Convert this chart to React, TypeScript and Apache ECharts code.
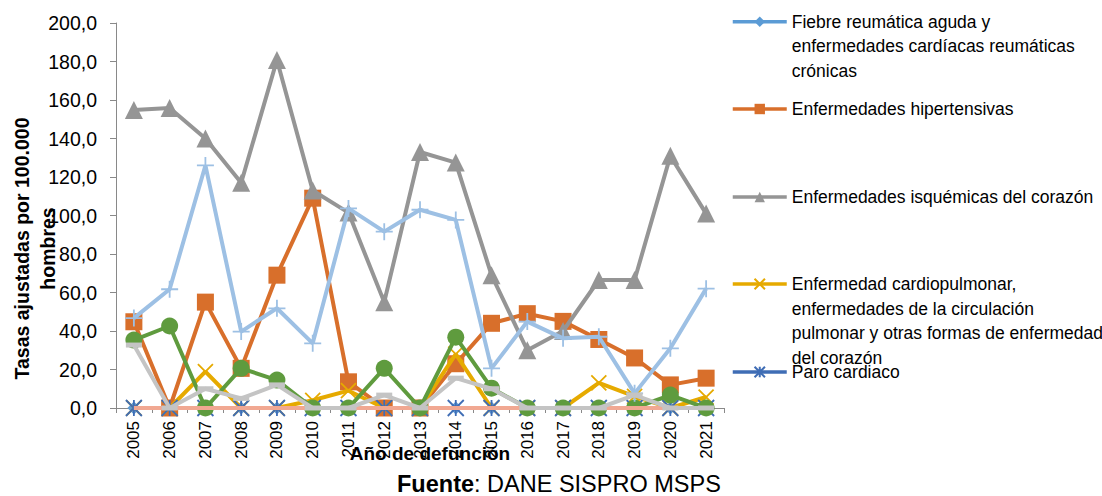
import React, { useEffect, useRef } from "react";
import * as echarts from "echarts";

const years = ["2005", "2006", "2007", "2008", "2009", "2010", "2011", "2012", "2013", "2014", "2015", "2016", "2017", "2018", "2019", "2020", "2021"];
const yTicks = [0, 20, 40, 60, 80, 100, 120, 140, 160, 180, 200];

const fiebre = [0, 0, 0, 0, 0, 0, 0, 0, 0, 0, 0, 0, 0, 0, 0, 0, 0];
const hipertensivas = [44.8, 0, 55, 20.6, 69, 109, 13.6, 0, 0, 23, 44, 49, 45, 35.6, 26, 12, 15.5];
const isquemicas = [154.8, 155.8, 140, 117, 180.8, 113, 101.5, 55, 133, 127.5, 69, 30, 40, 66.5, 66.5, 131, 101];
const cardiopulmonar = [0, 0, 18.9, 0, 0, 4, 9, 0, 0, 28, 0, 0, 0, 13, 6, 0, 5.7];
const paro = [0, 0, 0, 0, 0, 0, 0, 0, 0, 0, 0, 0, 0, 0, 0, 0, 0];
const insuficiencia = [35.3, 42.6, 0, 20.6, 14.5, 0, 0, 20.6, 0, 36.8, 10.3, 0, 0, 0, 0, 6.7, 0];
const cerebrovasculares = [46.7, 61.7, 126, 39.7, 51.8, 33.6, 103.7, 91.6, 103, 97.7, 20.6, 44.9, 36.2, 37, 7.6, 31, 62];
const aterosclerosis = [0, 0, 0, 0, 0, 0, 0, 0, 0, 0, 0, 0, 0, 0, 0, 0, 0];
const demas = [32.7, 0, 10, 5, 12, 0, 0, 6.7, 0, 15.5, 10, 0, 0, 0, 6.7, 0, 0];

const N_FIEBRE = "Fiebre reumática aguda y\nenfermedades cardíacas reumáticas\ncrónicas";
const N_HIPER = "Enfermedades hipertensivas";
const N_ISQ = "Enfermedades isquémicas del corazón";
const N_CARDIO = "Enfermedad cardiopulmonar,\nenfermedades de la circulación\npulmonar y otras formas de enfermedad\ndel corazón";
const N_PARO = "Paro cardiaco";
const N_INSUF = "Insuficiencia cardíaca";
const N_CEREBRO = "Enfermedades cerebrovasculares";
const N_ATERO = "Aterosclerosis";
const N_DEMAS = "Las demás enfermedades del sistema circulatorio";

const FONT = "'Liberation Sans', Arial, sans-serif";

const SYM_X = "path://M0,0L10,10M10,0L0,10";
const SYM_STAR = "path://M5,0V10M0,0L10,10M10,0L0,10";
const SYM_PLUS = "path://M5,0V10M0,5H10";
const SYM_DASH = "path://M0,0H10V3H0Z";

function mk(name: string, data: number[], color: string, symbol: string, symbolSize: any, stroke: boolean, z: number) {
  return {
    name,
    type: "line",
    data,
    symbol,
    symbolSize,
    showSymbol: symbol !== "none",
    z,
    lineStyle: { color, width: 4 },
    itemStyle: stroke
      ? { color, borderColor: color, borderWidth: 1.8 }
      : { color, borderWidth: 0 },
    emphasis: { disabled: true },
  };
}

const LH = 24.5;
const legendDefs = [
  { name: N_FIEBRE, n: 3, y: 21.7 },
  { name: N_HIPER, n: 1, y: 109 },
  { name: N_ISQ, n: 1, y: 197 },
  { name: N_CARDIO, n: 4, y: 284 },
  { name: N_PARO, n: 1, y: 372 },
];

export default function App() {
  const ref = useRef<HTMLDivElement>(null);
  useEffect(() => {
    const chart = echarts.init(ref.current!, null, { renderer: "svg" });
    const option: any = {
      animation: false,
      grid: { left: 116, right: 378, top: 23, bottom: 88, containLabel: false, outerBoundsMode: "none" },
      legend: legendDefs.map((d) => ({
        data: [d.name],
        left: 731,
        top: d.y - (LH * (2 * d.n - 1)) / 2,
        padding: 0,
        itemWidth: 54,
        itemHeight: 13,
        itemGap: 5,
        selectedMode: false,
        lineStyle: { width: 3.5 },
        formatter: (name: string) => "\n".repeat(d.n - 1) + name,
        textStyle: {
          fontFamily: FONT,
          fontSize: 17.5,
          color: "#000",
          lineHeight: LH,
        },
      })),
      xAxis: {
        type: "category",
        data: years,
        boundaryGap: true,
        name: "Año de defunción",
        nameLocation: "middle",
        nameGap: 36,
        nameMoveOverlap: false,
        nameTextStyle: {
          fontFamily: FONT,
          fontWeight: "bold",
          fontSize: 19,
          color: "#000",
          padding: [0, 0, 0, 20],
        },
        axisLine: { lineStyle: { color: "#898989", width: 1 } },
        axisTick: { show: true, length: 5, lineStyle: { color: "#898989" } },
        axisLabel: {
          rotate: 90,
          margin: 13,
          fontFamily: FONT,
          fontSize: 17,
          color: "#000",
        },
        splitLine: { show: false },
      },
      yAxis: {
        type: "value",
        min: yTicks[0],
        max: yTicks[yTicks.length - 1],
        interval: 20,
        name: "Tasas ajustadas por 100.000\nhombres",
        nameLocation: "middle",
        nameGap: 55,
        nameRotate: 90,
        nameMoveOverlap: false,
        nameTextStyle: {
          fontFamily: FONT,
          fontWeight: "bold",
          fontSize: 19.5,
          lineHeight: 26,
          color: "#000",
          padding: [0, 66, 0, 0],
        },
        axisLine: { show: true, lineStyle: { color: "#898989", width: 1 } },
        axisTick: { show: true, length: 6, lineStyle: { color: "#898989" } },
        axisLabel: {
          margin: 19,
          fontFamily: FONT,
          fontSize: 19.5,
          color: "#000",
          formatter: (v: number) => v.toFixed(1).replace(".", ","),
        },
        splitLine: { show: false },
      },
      graphic: [
        {
          type: "text",
          left: 397,
          top: 472,
          style: {
            text: "{b|Fuente}: DANE SISPRO MSPS",
            fontFamily: FONT,
            fontSize: 23.5,
            fill: "#000",
            rich: {
              b: { fontFamily: FONT, fontSize: 23.5, fontWeight: "bold", fill: "#000" },
            },
          },
        },
      ],
      series: [
        mk(N_FIEBRE, fiebre, "#5B9BD5", "diamond", 13, false, 2),
        mk(N_HIPER, hipertensivas, "#D86F2B", "rect", 17, false, 3),
        mk(N_ISQ, isquemicas, "#959595", "triangle", 18, false, 4),
        mk(N_CARDIO, cardiopulmonar, "#E6AA00", SYM_X, 15, true, 5),
        mk(N_PARO, paro, "#3F6DB5", SYM_STAR, 16, true, 6),
        mk(N_INSUF, insuficiencia, "#5F9B3E", "circle", 17, false, 7),
        mk(N_CEREBRO, cerebrovasculares, "#9DC0E4", SYM_PLUS, 17, true, 8),
        mk(N_ATERO, aterosclerosis, "#F1A892", "none", 6, false, 9),
        mk(N_DEMAS, demas, "#C4C4C4", SYM_DASH, [16, 5], false, 10),
      ],
    };
    chart.setOption(option);
    return () => chart.dispose();
  }, []);
  return (
    <div
      ref={ref}
      style={{ width: 1102, height: 496, position: "absolute", left: 0, top: 0 }}
    />
  );
}
